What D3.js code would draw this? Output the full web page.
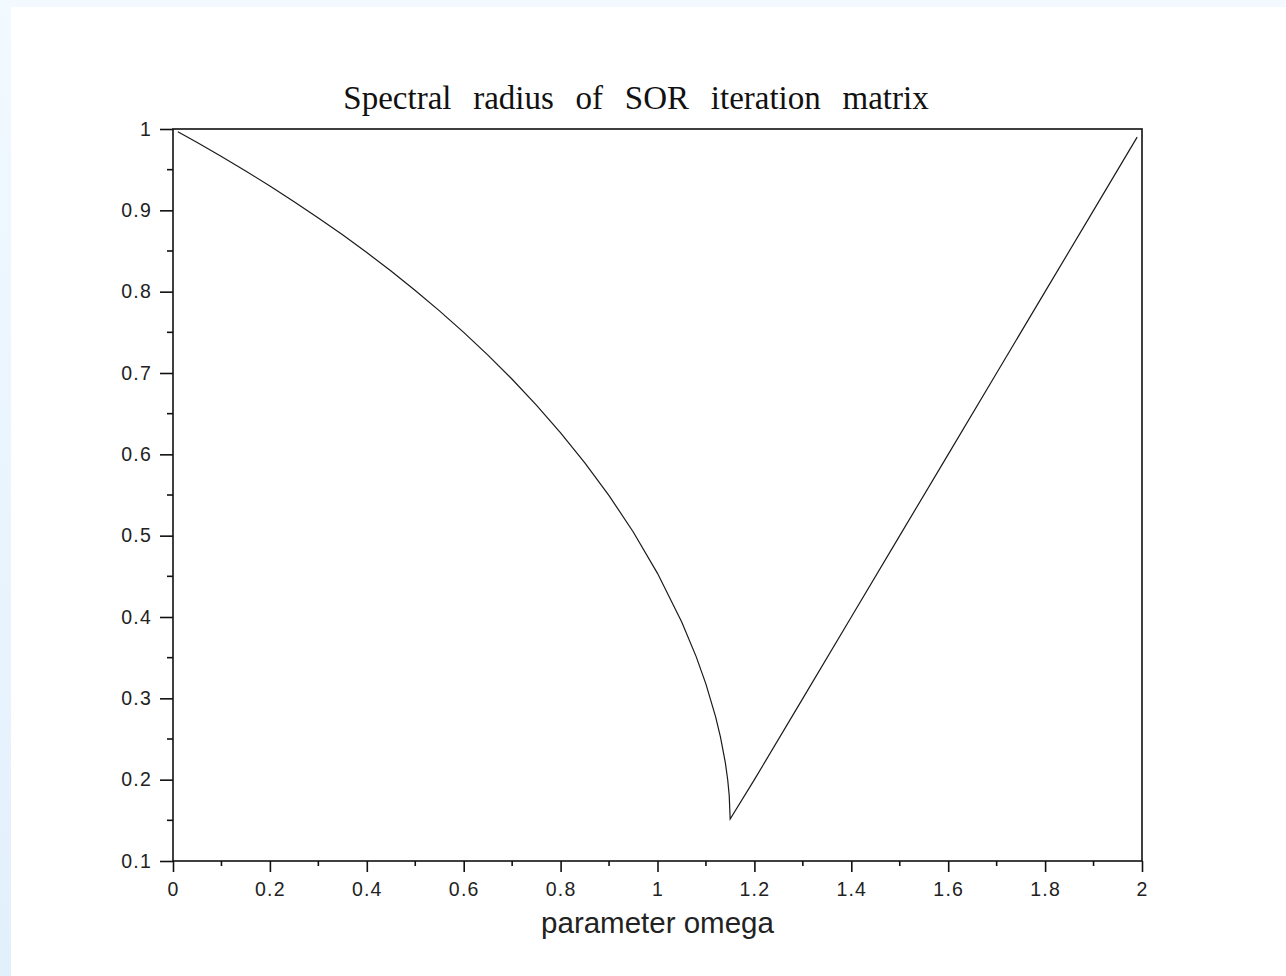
<!DOCTYPE html>
<html>
<head>
<meta charset="utf-8">
<script src="https://cdn.jsdelivr.net/npm/d3@7"></script>
<style>
  html, body { margin: 0; padding: 0; background: #fff; }
  svg { display: block; }
</style>
</head>
<body>
<div id="chart"></div>
<script>
// values (omega, spectral radius)
var omega = [0.01, 0.05, 0.1, 0.15, 0.2, 0.25, 0.3, 0.35, 0.4, 0.45, 0.5, 0.55, 0.6, 0.65, 0.7,
    0.75, 0.8, 0.85, 0.9, 0.95, 1.0, 1.05, 1.08, 1.1, 1.12, 1.13, 1.14, 1.145, 1.148, 1.15,
    1.2, 1.3, 1.4, 1.5, 1.6, 1.7, 1.8, 1.9, 1.99]
var radius = [0.9967, 0.9834, 0.9662, 0.9484, 0.9299, 0.9107, 0.8907, 0.8699, 0.8481, 0.8254, 0.8015, 0.7764, 0.7500, 0.7220, 0.6923,
    0.6606, 0.6265, 0.5896, 0.5493, 0.5045, 0.4537, 0.3939, 0.3510, 0.3175, 0.2772, 0.2524, 0.2209, 0.1993, 0.1807, 0.1516,
    0.2, 0.3, 0.4, 0.5, 0.6, 0.7, 0.8, 0.9, 0.99]

var xTicks = [0, 0.2, 0.4, 0.6, 0.8, 1, 1.2, 1.4, 1.6, 1.8, 2]
var xMinor = [0.1, 0.3, 0.5, 0.7, 0.9, 1.1, 1.3, 1.5, 1.7, 1.9]
var yTicks = [0.1, 0.2, 0.3, 0.4, 0.5, 0.6, 0.7, 0.8, 0.9, 1]
var yMinor = [0.15, 0.25, 0.35, 0.45, 0.55, 0.65, 0.75, 0.85, 0.95]

var title = "Spectral radius of SOR iteration matrix"
var xLabel = "parameter omega"

var W = 1286, H = 976
var margin = {left: 173, right: 144, top: 129, bottom: 115}

var svg = d3.select("#chart").append("svg")
    .attr("width", W)
    .attr("height", H)

// light blue page edges
var defs = svg.append("defs")
var grad = defs.append("linearGradient")
    .attr("id", "edge")
    .attr("x1", 0).attr("y1", 0).attr("x2", 0).attr("y2", 1)
grad.append("stop").attr("offset", "0%").attr("stop-color", "#f2f9ff")
grad.append("stop").attr("offset", "100%").attr("stop-color", "#e2f0fc")

svg.append("rect").attr("x", 0).attr("y", 0).attr("width", W).attr("height", 7).attr("fill", "#f3f9ff")
svg.append("rect").attr("x", 0).attr("y", 0).attr("width", 11).attr("height", H).attr("fill", "url(#edge)")

var x = d3.scaleLinear().domain([0, 2]).range([margin.left, W - margin.right])
var y = d3.scaleLinear().domain([0.1, 1]).range([H - margin.bottom, margin.top])

var g = svg.append("g")

// frame
g.append("rect")
    .attr("x", x(0))
    .attr("y", y(1))
    .attr("width", x(2) - x(0))
    .attr("height", y(0.1) - y(1))
    .attr("fill", "none")
    .attr("stroke", "#111")
    .attr("stroke-width", 1.6)

// x axis
var xAxis = g.append("g")
    .attr("transform", "translate(0," + y(0.1) + ")")
    .call(d3.axisBottom(x).tickValues(xTicks).tickSize(11).tickPadding(10)
        .tickFormat(d3.format("~g")))
xAxis.select(".domain").remove()
xAxis.append("g").selectAll("line")
    .data(xMinor)
    .enter().append("line")
    .attr("x1", function(d) { return x(d) })
    .attr("x2", function(d) { return x(d) })
    .attr("y1", 0)
    .attr("y2", 5)

// y axis
var yAxis = g.append("g")
    .attr("transform", "translate(" + x(0) + ",0)")
    .call(d3.axisLeft(y).tickValues(yTicks).tickSize(13).tickPadding(8)
        .tickFormat(d3.format("~g")))
yAxis.select(".domain").remove()
yAxis.append("g").selectAll("line")
    .data(yMinor)
    .enter().append("line")
    .attr("x1", -6)
    .attr("x2", 0)
    .attr("y1", function(d) { return y(d) })
    .attr("y2", function(d) { return y(d) })

svg.selectAll(".tick line, g line")
    .attr("stroke", "#111")
    .attr("stroke-width", 1.6)

svg.selectAll(".tick text")
    .attr("fill", "#222")
    .style("font-family", "'Liberation Sans', Arial, sans-serif")
    .style("font-size", "19.5px")
    .style("letter-spacing", "1.2px")

// curve
var line = d3.line()
    .x(function(d) { return x(d[0]) })
    .y(function(d) { return y(d[1]) })

g.append("path")
    .datum(d3.zip(omega, radius))
    .attr("d", line)
    .attr("fill", "none")
    .attr("stroke", "#1a1a1a")
    .attr("stroke-width", 1.2)

// title
svg.append("text")
    .attr("x", 636)
    .attr("y", 109)
    .attr("text-anchor", "middle")
    .style("font-family", "'Liberation Serif', 'Times New Roman', serif")
    .style("font-size", "33px")
    .style("word-spacing", "13.5px")
    .attr("fill", "#111")
    .text(title)

// x label
svg.append("text")
    .attr("x", (x(0) + x(2)) / 2)
    .attr("y", 933)
    .attr("text-anchor", "middle")
    .style("font-family", "'Liberation Sans', Arial, sans-serif")
    .style("font-size", "29.5px")
    .attr("fill", "#222")
    .text(xLabel)
</script>
</body>
</html>
